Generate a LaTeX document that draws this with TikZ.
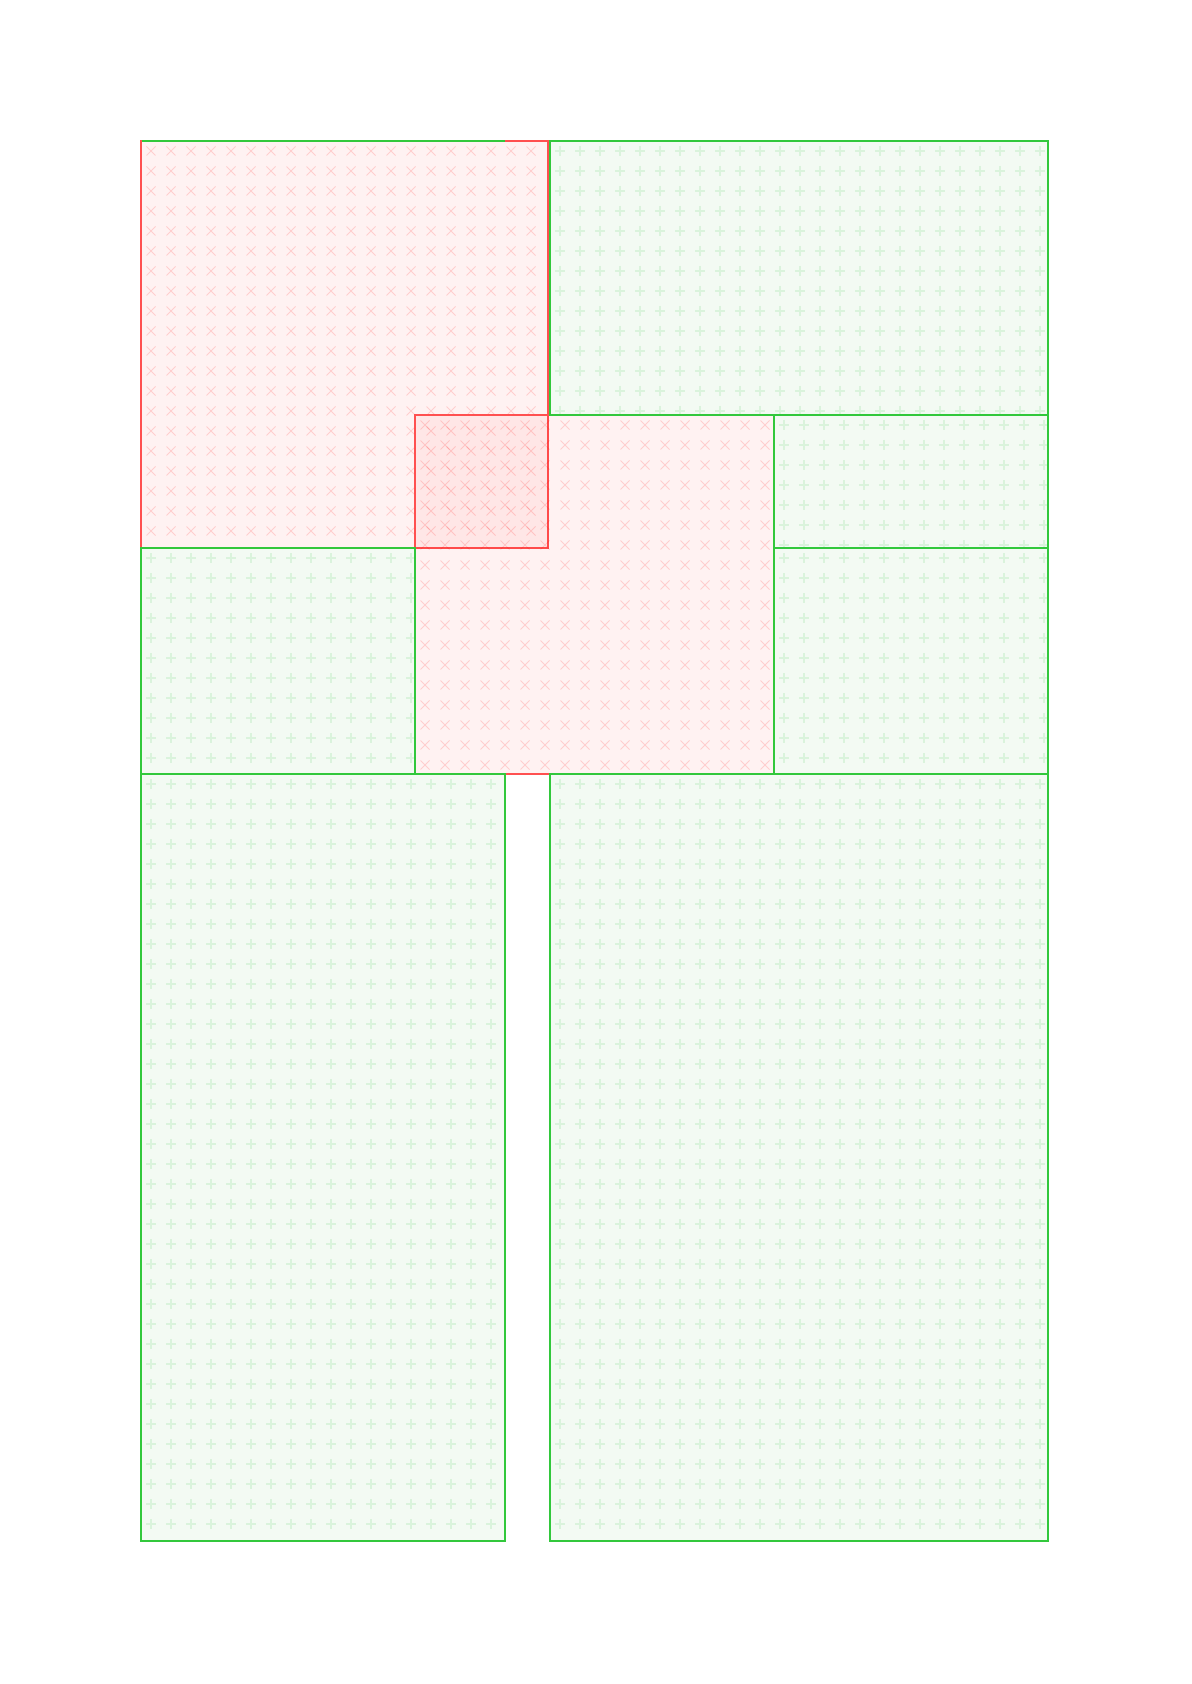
\documentclass[tikz,border=0pt]{standalone}
\definecolor{rline}{RGB}{255,80,80}
\definecolor{gline}{RGB}{50,200,60}
\definecolor{gfill}{RGB}{243,250,243}
\definecolor{gmark}{RGB}{218,243,220}
\tikzset{
  redmark/.style={draw=red, draw opacity=0.15, line width=0.45pt},
  greenmark/.style={draw=gmark, line width=0.55pt},
}
\newcommand{\crosspat}[4]{%
  \pgfmathtruncatemacro{\nx}{(#3-#1-11)/20}%
  \pgfmathtruncatemacro{\ny}{(#4-#2-11)/20}%
  \begin{scope}
    \clip (#1,#2) rectangle (#3,#4);
    \foreach \i in {0,...,\nx}{\foreach \j in {0,...,\ny}{
      \draw[redmark] ({#1+10+20*\i-4.5},{#2+10+20*\j-4.5}) -- ++(9,9)
                     ({#1+10+20*\i-4.5},{#2+10+20*\j+4.5}) -- ++(9,-9);
    }}
  \end{scope}}
\newcommand{\pluspat}[4]{%
  \pgfmathtruncatemacro{\nx}{(#3-#1-11)/20}%
  \pgfmathtruncatemacro{\ny}{(#4-#2-11)/20}%
  \begin{scope}
    \clip (#1,#2) rectangle (#3,#4);
    \foreach \i in {0,...,\nx}{\foreach \j in {0,...,\ny}{
      \draw[greenmark] ({#1+10+20*\i-5},{#2+10+20*\j}) -- ++(10,0)
                       ({#1+10+20*\i},{#2+10+20*\j-5}) -- ++(0,10);
    }}
  \end{scope}}
\newcommand{\redrect}[4]{%
  \fill[red, opacity=0.05] (#1,#2) rectangle (#3,#4);
  \crosspat{#1}{#2}{#3}{#4}
  \draw[draw=rline, line width=1pt] (#1,#2) rectangle (#3,#4);}
\newcommand{\greenrect}[4]{%
  \fill[gfill] (#1,#2) rectangle (#3,#4);
  \pluspat{#1}{#2}{#3}{#4}
  \draw[draw=gline, line width=1pt] (#1,#2) rectangle (#3,#4);}
\begin{document}
\begin{tikzpicture}[x=0.5pt,y=-0.5pt]
  \useasboundingbox (0,0) rectangle (1191,1684);
  % red regions
  \redrect{141}{141}{548}{548}
  \redrect{415}{415}{774}{774}
  % green regions
  \greenrect{550}{141}{1048}{415}
  \greenrect{774}{415}{1048}{548}
  \greenrect{774}{548}{1048}{774}
  \greenrect{141}{548}{415}{774}
  \greenrect{141}{774}{504.5}{1541}
  \greenrect{550}{774}{1048}{1541}
  % green segment along the top edge
  \draw[draw=gline, line width=1pt] (142,141) -- (504.5,141);
\end{tikzpicture}
\end{document}
